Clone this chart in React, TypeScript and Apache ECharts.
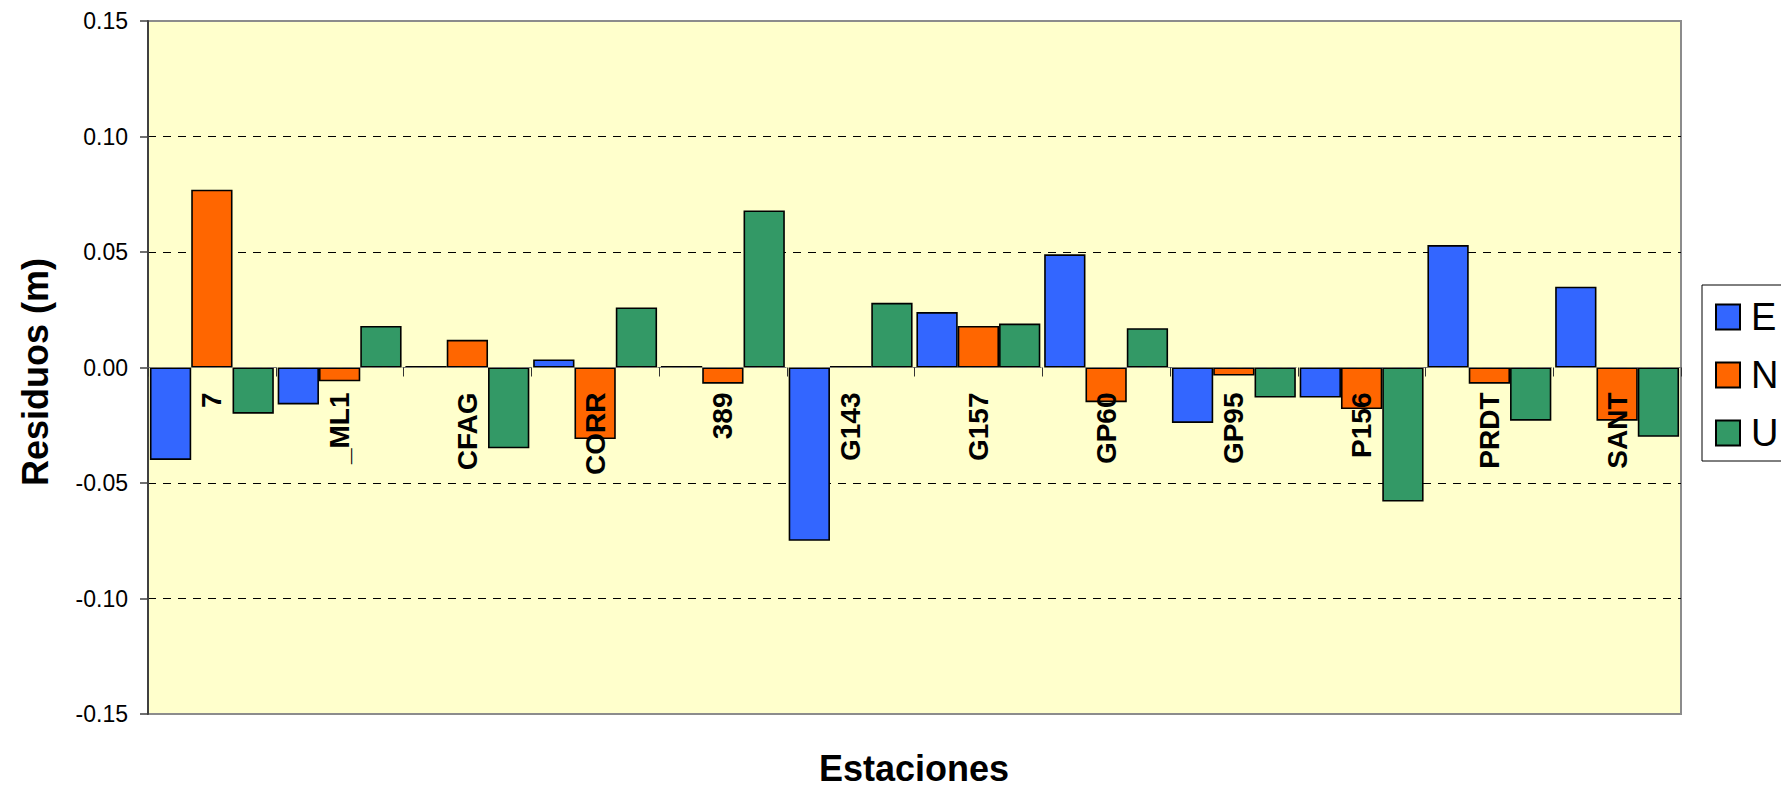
import React, { useEffect, useRef } from "react";
import * as echarts from "echarts";

const categories = ["7", "_ML1", "CFAG", "CORR", "389", "G143", "G157", "GP60", "GP95", "P156", "PRDT", "SANT"];
const eValues = [-0.040, -0.016, 0.0007, 0.0035, 0.0007, -0.075, 0.024, 0.049, -0.024, -0.013, 0.053, 0.035];
const nValues = [0.077, -0.006, 0.012, -0.031, -0.007, 0.0007, 0.018, -0.015, -0.0035, -0.018, -0.007, -0.023];
const uValues = [-0.020, 0.018, -0.035, 0.026, 0.068, 0.028, 0.019, 0.017, -0.013, -0.058, -0.023, -0.030];
const seriesNames = ["E", "N", "U"];
const seriesColors = ["#3366FF", "#FF6600", "#339966"];
const yTitle = "Residuos (m)";
const xTitle = "Estaciones";

const FONT = "'Liberation Sans', Arial, Helvetica, sans-serif";
const GRID_TOP = 21;
const GRID_HEIGHT = 693;

export default function App() {
  const ref = useRef<HTMLDivElement>(null);

  useEffect(() => {
    document.body.style.margin = "0";
    if (!ref.current) return;
    const chart = echarts.init(ref.current, undefined, { renderer: "svg" });
    const values = [eValues, nValues, uValues];
    const option = {
      animation: false,
      textStyle: { fontFamily: FONT },
      grid: {
        left: 148,
        top: GRID_TOP,
        width: 1533,
        height: GRID_HEIGHT,
        show: true,
        backgroundColor: "#FFFFCC",
        borderColor: "#8c8c8c",
        borderWidth: 2,
        containLabel: false,
        outerBoundsMode: "none",
      },
      legend: {
        data: seriesNames,
        orient: "vertical",
        left: 1702,
        top: 285,
        icon: "rect",
        itemWidth: 24,
        itemHeight: 25,
        itemGap: 18,
        padding: [12, 40, 8, 13],
        borderColor: "#000",
        borderWidth: 1,
        backgroundColor: "#fff",
        textStyle: { fontSize: 38, color: "#000", lineHeight: 40, fontFamily: FONT, padding: [0, 0, 0, 6] },
      },
      xAxis: {
        type: "category",
        data: categories,
        z: 10,
        position: "bottom",
        offset: -GRID_HEIGHT / 2,
        axisLine: { show: true, onZero: false, lineStyle: { color: "#777", width: 1.2, type: [8, 7] } },
        axisTick: { show: true, length: 9, interval: 0, lineStyle: { color: "#333", width: 1 } },
        axisLabel: {
          interval: 0,
          rotate: 90,
          margin: 25,
          fontSize: 28,
          fontWeight: "bold",
          color: "#000",
          fontFamily: FONT,
        },
        splitLine: { show: false },
      },
      yAxis: {
        type: "value",
        min: -0.15,
        max: 0.15,
        interval: 0.05,
        axisLine: { show: true, lineStyle: { color: "#404040", width: 2 } },
        axisTick: { show: true, length: 8, lineStyle: { color: "#404040", width: 1.5 } },
        axisLabel: {
          formatter: (v: number) => v.toFixed(2),
          fontSize: 23,
          color: "#000",
          margin: 20,
          fontFamily: FONT,
        },
        splitLine: {
          show: true,
          lineStyle: {
            type: [8, 7],
            width: 1.2,
            color: ["rgba(0,0,0,0)", "#000", "#000", "rgba(0,0,0,0)", "#000", "#000", "rgba(0,0,0,0)"],
          },
        },
      },
      series: seriesNames.map((name, i) => ({
        name,
        type: "bar",
        data: values[i],
        barGap: "0%",
        barCategoryGap: "3%",
        itemStyle: { color: seriesColors[i], borderColor: "#000", borderWidth: 1.6 },
      })),
      graphic: [
        {
          type: "text",
          x: 35,
          y: 372,
          rotation: Math.PI / 2,
          style: {
            text: yTitle,
            fontSize: 36,
            fontWeight: "bold",
            fontFamily: FONT,
            fill: "#000",
            textAlign: "center",
            textVerticalAlign: "middle",
          },
        },
        {
          type: "text",
          x: 914,
          y: 768,
          style: {
            text: xTitle,
            fontSize: 36,
            fontWeight: "bold",
            fontFamily: FONT,
            fill: "#000",
            textAlign: "center",
            textVerticalAlign: "middle",
          },
        },
      ],
    };
    chart.setOption(option as any);
    return () => chart.dispose();
  }, []);

  return <div ref={ref} style={{ width: 1781, height: 788 }} />;
}
